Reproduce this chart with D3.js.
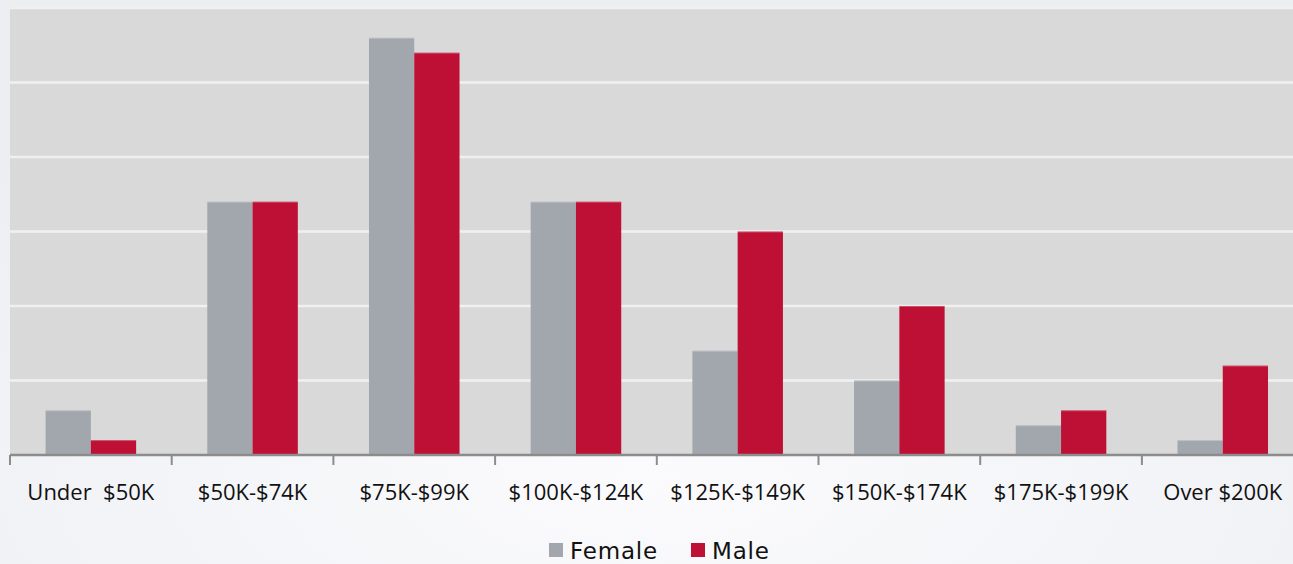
<!DOCTYPE html>
<html>
<head>
<meta charset="utf-8">
<script src="https://cdn.jsdelivr.net/npm/d3@7/dist/d3.min.js"></script>
<style>
  html, body { margin: 0; padding: 0; }
  body { width: 1293px; height: 564px; overflow: hidden; }
</style>
</head>
<body>
<svg id="chart" width="1293" height="564"></svg>
<script>
// Income brackets and respondent counts by gender
const categories = ["Under  $50K", "$50K-$74K", "$75K-$99K", "$100K-$124K",
                    "$125K-$149K", "$150K-$174K", "$175K-$199K", "Over $200K"];
const female = [3, 17, 28, 17, 7, 5, 2, 1];
const male   = [1, 17, 27, 17, 15, 10, 3, 6];
const seriesNames = ["Female", "Male"];
const yTicks = [0, 5, 10, 15, 20, 25, 30];

const colors = { Female: "#a2a7ae", Male: "#be1035" };

const svg = d3.select("#chart");
const W = 1293, H = 564;

// page background
const defs = svg.append("defs");
const grad = defs.append("radialGradient").attr("id", "bg")
  .attr("cx", "50%").attr("cy", "85%").attr("r", "75%");
grad.append("stop").attr("offset", "0%").attr("stop-color", "#fbfbfd");
grad.append("stop").attr("offset", "100%").attr("stop-color", "#eceef2");
svg.append("rect").attr("width", W).attr("height", H).attr("fill", "url(#bg)");

const plot = { left: 10, right: 1303.6, top: 8, bottom: 455 };

const x = d3.scaleBand().domain(categories)
  .range([plot.left, plot.right]).paddingInner(0.44).paddingOuter(0.22);
const xSeries = d3.scaleBand().domain(seriesNames).range([0, x.bandwidth()]);
const y = d3.scaleLinear().domain([0, 30]).range([plot.bottom, plot.top]);

// plot area
svg.append("rect")
  .attr("x", plot.left).attr("y", plot.top)
  .attr("width", plot.right - plot.left).attr("height", plot.bottom - plot.top)
  .attr("fill", "#d9d9d9");

// gridlines
svg.append("g").selectAll("line").data(yTicks.slice(1)).join("line")
  .attr("x1", plot.left).attr("x2", plot.right)
  .attr("y1", d => y(d)).attr("y2", d => y(d))
  .attr("stroke", "#f0f0f0").attr("stroke-width", 2.5);

// bars
const rows = categories.map((c, i) => ({ cat: c, values: [
  { key: "Female", value: female[i] }, { key: "Male", value: male[i] }] }));

const groups = svg.append("g").selectAll("g").data(rows).join("g")
  .attr("transform", d => `translate(${x(d.cat)},0)`);
groups.selectAll("rect").data(d => d.values).join("rect")
  .attr("x", d => xSeries(d.key))
  .attr("y", d => y(d.value))
  .attr("width", xSeries.bandwidth())
  .attr("height", d => y(0) - y(d.value))
  .attr("fill", d => colors[d.key]);
// faint highlight along each bar top
groups.selectAll("line.top").data(d => d.values).join("line")
  .attr("class", "top")
  .attr("x1", d => xSeries(d.key)).attr("x2", d => xSeries(d.key) + xSeries.bandwidth())
  .attr("y1", d => y(d.value) + 0.5).attr("y2", d => y(d.value) + 0.5)
  .attr("stroke", "#ffffff").attr("stroke-opacity", 0.25).attr("stroke-width", 1);

// category axis with ticks at category boundaries
const axisG = svg.append("g");
axisG.append("line")
  .attr("x1", plot.left).attr("x2", plot.right)
  .attr("y1", plot.bottom).attr("y2", plot.bottom)
  .attr("stroke", "#8c8c8c").attr("stroke-width", 2.5);
const boundaries = categories.map(c => x(c) - x.step() * x.paddingOuter());
boundaries.push(plot.right);
axisG.selectAll("line.tick").data(boundaries).join("line")
  .attr("class", "tick")
  .attr("x1", d => d).attr("x2", d => d)
  .attr("y1", plot.bottom).attr("y2", plot.bottom + 10)
  .attr("stroke", "#8c8c8c").attr("stroke-width", 2);

axisG.selectAll("text").data(categories).join("text")
  .attr("x", d => x(d) + x.bandwidth() / 2)
  .attr("y", 500)
  .attr("text-anchor", "middle")
  .attr("font-family", "'Open Sans', sans-serif")
  .attr("font-size", 22)
  .attr("fill", "#111")
  .style("white-space", "pre")
  .attr("xml:space", "preserve")
  .text(d => d);

// legend
const legend = svg.append("g").attr("font-family", "'DejaVu Sans', sans-serif");
const legendItems = [{ key: "Female", x: 549 }, { key: "Male", x: 691 }];
legendItems.forEach(it => {
  legend.append("rect").attr("x", it.x).attr("y", 543).attr("width", 14).attr("height", 14)
    .attr("fill", colors[it.key]);
  legend.append("text").attr("x", it.x + 21).attr("y", 559)
    .attr("font-size", 23).attr("letter-spacing", 0.8)
    .attr("fill", "#111").text(it.key);
});
</script>
</body>
</html>
